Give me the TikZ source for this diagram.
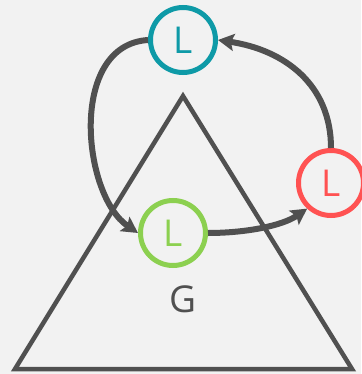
\documentclass[tikz,border=0pt]{standalone}
\usepackage{fontspec}
\setmainfont{Open Sans}
\usetikzlibrary{arrows.meta}
\definecolor{bg}{HTML}{F2F2F2}
\definecolor{dk}{HTML}{505050}
\definecolor{tealc}{HTML}{0E9AA7}
\definecolor{redc}{HTML}{FF5252}
\definecolor{greenc}{HTML}{8CD050}
\tikzset{
  lnode/.style={circle, draw=#1, text=#1, fill=bg, line width=5pt, minimum size=65pt, inner sep=0pt, font=\fontsize{37}{37}\selectfont},
  conn/.style={draw=dk, line width=6pt, -{Stealth[length=16pt,width=17pt,inset=3pt]}},
}
\begin{document}
\begin{tikzpicture}[x=1pt,y=-1pt]
\fill[bg] (0,0) rectangle (361,374);
\useasboundingbox (0,0) rectangle (361,374);
\draw[dk, line width=4.5pt] (183,96) -- (15,369) -- (352,369) -- cycle;
\node[text=dk, font=\fontsize{37}{37}\selectfont] (glab) at (183,299) {G};
\node[lnode=tealc] (t) at (183,40) {L};
\node[lnode=redc] (r) at (331,183) {L};
\node[lnode=greenc] (g) at (173,233) {L};
\draw[conn] (t.west) .. controls (68,45) and (82,195) .. (g.west);
\draw[conn] (g.east) .. controls (245,233) and (282,226) .. (r.227);
\draw[conn] (r.north) .. controls (331,85) and (285,50) .. (t.east);
\end{tikzpicture}
\end{document}
